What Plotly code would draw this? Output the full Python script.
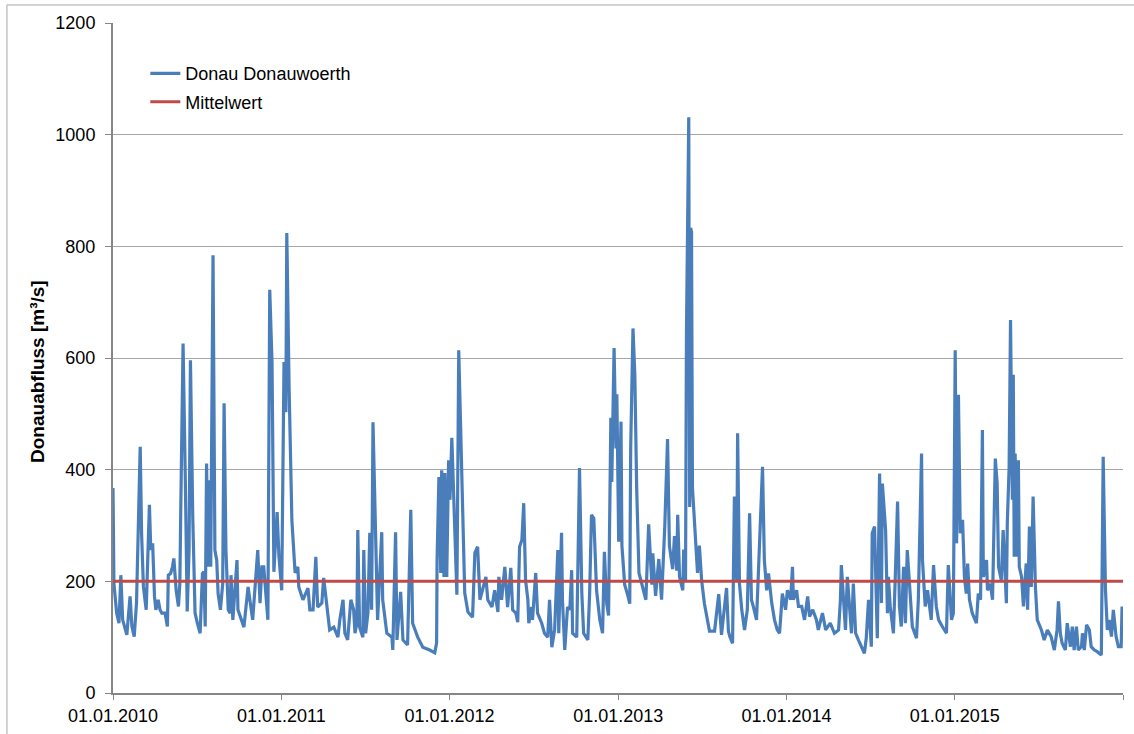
import pandas as pd
import plotly.graph_objects as go

# Tag seit 01.01.2010 und Tagesabfluss der Donau am Pegel Donauwoerth [m³/s]
tag = [
    0, 2, 8, 13, 17, 21, 30, 37, 41, 46, 51, 59, 62, 66, 72, 79, 82, 86, 90, 93,
    98, 102, 106, 113, 118, 120, 125, 129, 132, 137, 142, 145, 147, 152, 157, 161, 165, 168, 173, 178,
    183, 189, 194, 197, 200, 203, 206, 209, 212, 217, 221, 225, 228, 233, 238, 241, 245, 250, 254, 256,
    260, 269, 271, 284, 293, 297, 303, 314, 319, 323, 327, 336, 340, 345, 349, 356, 360, 366, 371, 375,
    377, 382, 388, 395, 401, 403, 412, 423, 427, 434, 440, 444, 453, 457, 464, 470, 479, 488, 492, 499,
    503, 509, 516, 522, 525, 529, 531, 535, 542, 544, 548, 553, 557, 561, 564, 568, 572, 574, 583, 585,
    594, 605, 607, 613, 616, 624, 629, 639, 646, 650, 661, 672, 687, 698, 702, 703, 707, 711, 713, 718,
    720, 724, 728, 731, 735, 737, 741, 746, 750, 757, 763, 770, 780, 785, 791, 796, 802, 809, 813, 822,
    828, 835, 837, 843, 850, 856, 863, 867, 874, 878, 882, 887, 891, 895, 900, 902, 908, 910, 917, 921,
    930, 936, 943, 947, 952, 958, 965, 967, 973, 975, 980, 986, 991, 995, 997, 1006, 1012, 1017, 1021, 1030,
    1034, 1038, 1043, 1049, 1056, 1062, 1066, 1071, 1075, 1080, 1082, 1087, 1091, 1093, 1097, 1102, 1104, 1110, 1117, 1121,
    1123, 1128, 1132, 1136, 1141, 1149, 1156, 1162, 1169, 1171, 1177, 1184, 1190, 1197, 1203, 1207, 1214, 1218, 1223, 1225,
    1229, 1236, 1238, 1242, 1244, 1249, 1251, 1253, 1255, 1257, 1264, 1268, 1272, 1277, 1283, 1294, 1305, 1314, 1320, 1331,
    1335, 1338, 1344, 1348, 1353, 1355, 1359, 1364, 1370, 1376, 1381, 1385, 1389, 1396, 1400, 1405, 1409, 1413, 1418, 1422,
    1429, 1435, 1441, 1446, 1452, 1459, 1463, 1470, 1474, 1476, 1483, 1487, 1494, 1500, 1507, 1511, 1518, 1526, 1530, 1539,
    1546, 1556, 1565, 1574, 1578, 1580, 1585, 1589, 1593, 1598, 1602, 1606, 1611, 1617, 1624, 1630, 1634, 1639, 1645, 1647,
    1652, 1656, 1658, 1663, 1667, 1669, 1676, 1680, 1682, 1686, 1693, 1697, 1702, 1706, 1710, 1715, 1719, 1723, 1728, 1734,
    1743, 1747, 1754, 1756, 1762, 1767, 1775, 1780, 1786, 1791, 1799, 1808, 1812, 1819, 1823, 1827, 1830, 1834, 1838, 1843,
    1847, 1851, 1854, 1858, 1864, 1873, 1877, 1882, 1886, 1888, 1895, 1897, 1903, 1908, 1914, 1918, 1921, 1927, 1931, 1936,
    1938, 1940, 1944, 1947, 1951, 1953, 1955, 1957, 1962, 1964, 1966, 1971, 1975, 1981, 1984, 1988, 1992, 1996, 2001, 2005,
    2014, 2020, 2027, 2035, 2042, 2048, 2051, 2055, 2059, 2066, 2070, 2077, 2081, 2085, 2090, 2094, 2101, 2103, 2107, 2112,
    2118, 2122, 2129, 2135, 2144, 2148, 2153, 2157, 2161, 2166, 2170, 2176, 2181, 2187, 2189,
]
abfluss = [
    367, 196, 143, 125, 211, 131, 104, 173, 119, 101, 161, 441, 286, 190, 149, 337, 256, 268, 173, 149,
    167, 149, 143, 143, 119, 211, 214, 226, 241, 184, 155, 196, 328, 626, 375, 146, 256, 596, 316, 143,
    125, 107, 214, 217, 119, 411, 226, 381, 226, 784, 256, 238, 178, 149, 196, 519, 256, 149, 143, 211,
    131, 238, 149, 118, 190, 167, 131, 256, 161, 226, 226, 131, 722, 591, 217, 324, 244, 184, 593, 503,
    824, 548, 310, 215, 226, 190, 167, 188, 149, 149, 244, 154, 161, 206, 154, 113, 118, 100, 131, 167,
    107, 95, 167, 149, 107, 125, 292, 118, 100, 256, 107, 143, 287, 149, 485, 315, 215, 131, 288, 167,
    107, 100, 77, 288, 95, 181, 95, 86, 328, 125, 100, 82, 77, 72, 90, 238, 387, 215, 399, 208,
    394, 208, 417, 346, 457, 405, 287, 176, 614, 346, 179, 145, 136, 251, 262, 167, 184, 208, 167, 154,
    184, 145, 208, 167, 226, 154, 224, 149, 143, 127, 262, 274, 340, 202, 167, 125, 154, 131, 215, 143,
    125, 107, 100, 167, 82, 113, 256, 107, 287, 167, 77, 154, 149, 220, 107, 100, 403, 179, 107, 95,
    179, 319, 313, 184, 131, 107, 253, 160, 139, 493, 378, 618, 438, 535, 271, 486, 264, 194, 174, 160,
    438, 653, 569, 368, 215, 188, 167, 302, 194, 250, 174, 240, 167, 299, 455, 264, 222, 281, 219, 319,
    208, 184, 257, 201, 646, 1031, 333, 833, 826, 368, 264, 215, 264, 201, 160, 111, 111, 177, 104, 188,
    111, 101, 89, 352, 202, 465, 196, 149, 113, 149, 322, 167, 155, 131, 214, 322, 405, 238, 184, 214,
    161, 131, 113, 107, 178, 149, 184, 167, 226, 167, 184, 155, 155, 131, 173, 137, 149, 131, 113, 143,
    113, 125, 107, 113, 167, 229, 155, 113, 208, 155, 107, 196, 107, 95, 83, 71, 98, 167, 83, 286,
    298, 167, 98, 393, 161, 375, 292, 143, 208, 155, 107, 208, 343, 155, 119, 226, 125, 256, 184, 119,
    98, 167, 429, 238, 155, 184, 131, 229, 155, 131, 119, 107, 229, 131, 143, 614, 268, 534, 286, 310,
    208, 178, 232, 167, 143, 125, 178, 167, 471, 208, 238, 184, 196, 167, 420, 375, 226, 202, 292, 178,
    161, 304, 405, 668, 346, 570, 244, 429, 244, 417, 226, 208, 155, 232, 149, 298, 190, 352, 190, 131,
    113, 95, 113, 101, 77, 113, 164, 107, 89, 77, 125, 83, 119, 77, 119, 77, 83, 107, 77, 122,
    113, 83, 77, 74, 68, 423, 184, 113, 131, 101, 149, 101, 83, 83, 155,
]

# Mittelwert des Abflusses [m³/s]
mittelwert = 200

jahre = ["2010", "2011", "2012", "2013", "2014", "2015", "2016"]
jahr_labels = ["01.01.2010", "01.01.2011", "01.01.2012", "01.01.2013",
               "01.01.2014", "01.01.2015", ""]

start = pd.Timestamp("2010-01-01")
datum = start + pd.to_timedelta(tag, unit="D")

FONT = "Liberation Sans, Arial, sans-serif"
BLAU = "#4a7ebb"
ROT = "#be4b48"
GRAU = "#868686"

fig = go.Figure()
fig.add_trace(go.Scatter(
    x=datum, y=abfluss, mode="lines", name="Donau Donauwoerth",
    line=dict(color=BLAU, width=3.2), legendgroup="a",
))
fig.add_trace(go.Scatter(
    x=[start, pd.Timestamp("2016-01-01")], y=[mittelwert, mittelwert],
    mode="lines", name="Mittelwert",
    line=dict(color=ROT, width=3), legendgroup="b",
))

fig.update_layout(
    width=1134, height=734,
    margin=dict(l=113, r=11, t=23, b=41),
    paper_bgcolor="white", plot_bgcolor="white",
    font=dict(family=FONT, size=18, color="black"),
    showlegend=True,
    legend=dict(
        x=0.032, y=0.952, xanchor="left", yanchor="top",
        bgcolor="rgba(0,0,0,0)", font=dict(size=18),
        tracegroupgap=2, itemwidth=30,
    ),
    xaxis=dict(
        type="date", automargin=False,
        range=[start, pd.Timestamp("2016-01-01")],
        tickvals=[pd.Timestamp(j + "-01-01") for j in jahre],
        ticktext=jahr_labels,
        showgrid=False, zeroline=False,
        showline=True, linecolor=GRAU, linewidth=2,
        ticks="outside", ticklen=5, tickcolor=GRAU, tickwidth=1,
        tickfont=dict(size=18), ticklabelstandoff=0,
    ),
    yaxis=dict(
        automargin=False,
        range=[0, 1200], dtick=200, tick0=0,
        showgrid=True, gridcolor="#a6a6a6", gridwidth=1,
        zeroline=False,
        showline=True, linecolor=GRAU, linewidth=2,
        ticks="outside", ticklen=6, tickcolor=GRAU, tickwidth=1,
        tickfont=dict(size=18), ticklabelstandoff=6,
    ),
    annotations=[dict(
        text="<b>Donauabfluss [m³/s]</b>", textangle=-90,
        xref="paper", yref="paper", x=-0.0743, y=0.4806,
        xanchor="center", yanchor="middle", showarrow=False,
        font=dict(size=19),
    )],
    shapes=[dict(
        type="rect", xref="paper", yref="paper",
        x0=-0.105, x1=1.015, y0=-0.07, y1=1.0269,
        line=dict(color="#a6a6a6", width=1), layer="below",
    )],
)

fig.write_html("out.html")
